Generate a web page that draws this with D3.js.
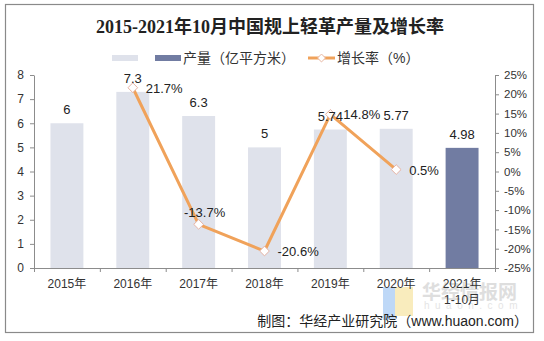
<!DOCTYPE html>
<html>
<head>
<meta charset="utf-8">
<script src="https://cdn.jsdelivr.net/npm/d3@7"></script>
<style>
  body { margin: 0; background: #fff; }
  svg text { font-family: "Liberation Sans", Arial, "Noto Sans CJK SC", sans-serif; }
</style>
</head>
<body>
<div id="chart"></div>
<script>
const years = ['2015年', '2016年', '2017年', '2018年', '2019年', '2020年', '2021年\n1-10月'];
const output = [6, 7.3, 6.3, 5, 5.74, 5.77, 4.98];          // 亿平方米
const growth = [null, 21.7, -13.7, -20.6, 14.8, 0.5, null];  // %
const leftTicks = [0, 1, 2, 3, 4, 5, 6, 7, 8];
const rightTicks = [-25, -20, -15, -10, -5, 0, 5, 10, 15, 20, 25];

const width = 544;
const height = 341;
const margin = { top: 75, right: 49, bottom: 73, left: 34 };
const plotW = width - margin.left - margin.right;
const plotH = height - margin.top - margin.bottom;

const lightBar = '#dfe2eb';
const darkBar = '#717ca2';
const lineColor = '#f0a25a';
const axisColor = '#8c8c8c';

const svg = d3.select('#chart')
  .append('svg')
  .attr('width', width)
  .attr('height', height);

svg.append('rect')
  .attr('width', width)
  .attr('height', height)
  .attr('fill', '#fff');

// frame
svg.append('rect')
  .attr('x', 5.5)
  .attr('y', 4.5)
  .attr('width', 528)
  .attr('height', 328)
  .attr('fill', 'none')
  .attr('stroke', '#8a8a8a')
  .attr('stroke-width', 1.2);

// site watermark (sits behind the chart text)
const wm = svg.append('g').attr('opacity', 0.75);
wm.append('rect').attr('x', 383).attr('y', 287).attr('width', 12).attr('height', 33).attr('fill', '#a9cbf5');
wm.append('rect').attr('x', 395).attr('y', 287).attr('width', 18).attr('height', 29).attr('fill', '#f7e6a8');
wm.append('text').attr('x', 422).attr('y', 299)
  .style('font-size', '19px').style('font-weight', 'bold').attr('fill', '#d4d4d4')
  .text('华经情报网');
wm.append('text').attr('x', 424).attr('y', 309)
  .style('font-size', '10px').style('letter-spacing', '5.5px').attr('fill', '#dcdcdc')
  .text('huaon.com');

// title
svg.append('text')
  .attr('x', 270)
  .attr('y', 33)
  .attr('text-anchor', 'middle')
  .style('font-family', '"Liberation Serif", "Noto Sans CJK SC", serif')
  .style('font-size', '18px')
  .style('font-weight', 'bold')
  .attr('fill', '#222')
  .text('2015-2021年10月中国规上轻革产量及增长率');

// legend
const legend = svg.append('g');
legend.append('rect').attr('x', 112).attr('y', 55).attr('width', 26).attr('height', 6).attr('fill', lightBar);
legend.append('rect').attr('x', 155).attr('y', 55).attr('width', 26).attr('height', 6).attr('fill', darkBar);
legend.append('text').attr('x', 183).attr('y', 63).style('font-size', '14px').attr('fill', '#333')
  .text('产量（亿平方米）');
legend.append('line').attr('x1', 308).attr('x2', 335).attr('y1', 58).attr('y2', 58)
  .attr('stroke', lineColor).attr('stroke-width', 3);
legend.append('path').attr('d', d3.symbol(d3.symbolDiamond2, 40)())
  .attr('transform', 'translate(321.5,58)')
  .attr('fill', '#fff').attr('stroke', '#e8b7a2').attr('stroke-width', 1);
legend.append('text').attr('x', 337).attr('y', 63).style('font-size', '14px').attr('fill', '#333')
  .text('增长率（%）');

const g = svg.append('g')
  .attr('transform', `translate(${margin.left},${margin.top})`);

const x = d3.scaleBand()
  .domain(years)
  .range([0, plotW])
  .paddingInner(0.5)
  .paddingOuter(0.25);

const y = d3.scaleLinear().domain([0, 8]).range([plotH, 0]);
const yRate = d3.scaleLinear().domain([-25, 25]).range([plotH, 0]);
const slot = d3.scaleLinear().domain([0, years.length]).range([0, plotW]);

// bars
g.selectAll('.bar')
  .data(output)
  .enter()
  .append('rect')
  .attr('class', 'bar')
  .attr('x', (d, i) => x(years[i]))
  .attr('y', d => y(d))
  .attr('width', x.bandwidth())
  .attr('height', d => plotH - y(d))
  .attr('fill', (d, i) => i === output.length - 1 ? darkBar : lightBar);

// axes
const styleAxis = sel => {
  sel.select('.domain').attr('stroke', axisColor);
  sel.selectAll('.tick line').attr('stroke', axisColor);
  sel.selectAll('.tick text').attr('fill', '#333').style('font-size', '12px');
};

g.append('g')
  .call(d3.axisLeft(y).tickValues(leftTicks).tickSize(4).tickSizeOuter(0).tickPadding(6))
  .call(styleAxis);

g.append('g')
  .attr('transform', `translate(${plotW},0)`)
  .call(d3.axisRight(yRate).tickValues(rightTicks).tickSize(4).tickSizeOuter(0).tickPadding(5)
    .tickFormat(d => d + '%'))
  .call(styleAxis)
  .selectAll('.tick text').style('font-size', '11.5px');

// category boundary ticks
g.append('g')
  .attr('transform', `translate(0,${plotH})`)
  .call(d3.axisBottom(slot).tickValues(d3.range(0, years.length + 1)).tickSize(4).tickSizeOuter(0)
    .tickFormat(''))
  .call(styleAxis);

// category labels
const xAxis = g.append('g')
  .attr('transform', `translate(0,${plotH})`)
  .call(d3.axisBottom(x).tickSize(0).tickPadding(11));
xAxis.select('.domain').remove();
xAxis.selectAll('.tick text')
  .attr('fill', '#333')
  .style('font-size', '12px')
  .each(function (d) {
    const t = d3.select(this);
    const parts = d.split('\n');
    t.text(null);
    parts.forEach((p, k) => {
      t.append('tspan').attr('x', 0).attr('dy', k === 0 ? '0.71em' : '1.35em').text(p);
    });
  });

// growth line
const ratePoints = growth
  .map((v, i) => ({ v, cat: years[i] }))
  .filter(d => d.v !== null);
const cx = d => x(d.cat) + x.bandwidth() / 2;

g.append('path')
  .datum(ratePoints)
  .attr('fill', 'none')
  .attr('stroke', lineColor)
  .attr('stroke-width', 3)
  .attr('stroke-linejoin', 'round')
  .attr('d', d3.line().x(cx).y(d => yRate(d.v)));

g.selectAll('.marker')
  .data(ratePoints)
  .enter()
  .append('path')
  .attr('class', 'marker')
  .attr('d', d3.symbol(d3.symbolDiamond2, 60)())
  .attr('transform', d => `translate(${cx(d)},${yRate(d.v)})`)
  .attr('fill', '#fff')
  .attr('stroke', '#e6b3a4')
  .attr('stroke-width', 1);

// bar value labels, drawn over the line
g.selectAll('.bar-label')
  .data(output)
  .enter()
  .append('text')
  .attr('class', 'bar-label')
  .attr('x', (d, i) => x(years[i]) + x.bandwidth() / 2)
  .attr('y', d => y(d) - 9)
  .attr('text-anchor', 'middle')
  .attr('fill', '#222')
  .style('font-size', '13px')
  .text(d => d);

// growth labels: the -13.7% point is labelled above, the others to the right
g.selectAll('.rate-label')
  .data(ratePoints)
  .enter()
  .append('text')
  .attr('class', 'rate-label')
  .attr('x', d => d.v === -13.7 ? cx(d) + 6 : cx(d) + 13)
  .attr('y', d => d.v === -13.7 ? yRate(d.v) - 7 : yRate(d.v) + 5)
  .attr('text-anchor', d => d.v === -13.7 ? 'middle' : 'start')
  .attr('fill', '#222')
  .style('font-size', '13px')
  .text(d => d.v + '%');

// source note
svg.append('text')
  .attr('x', 528)
  .attr('y', 326)
  .attr('text-anchor', 'end')
  .attr('fill', '#222')
  .style('font-size', '14px')
  .text('制图：华经产业研究院（www.huaon.com）');
</script>
</body>
</html>
